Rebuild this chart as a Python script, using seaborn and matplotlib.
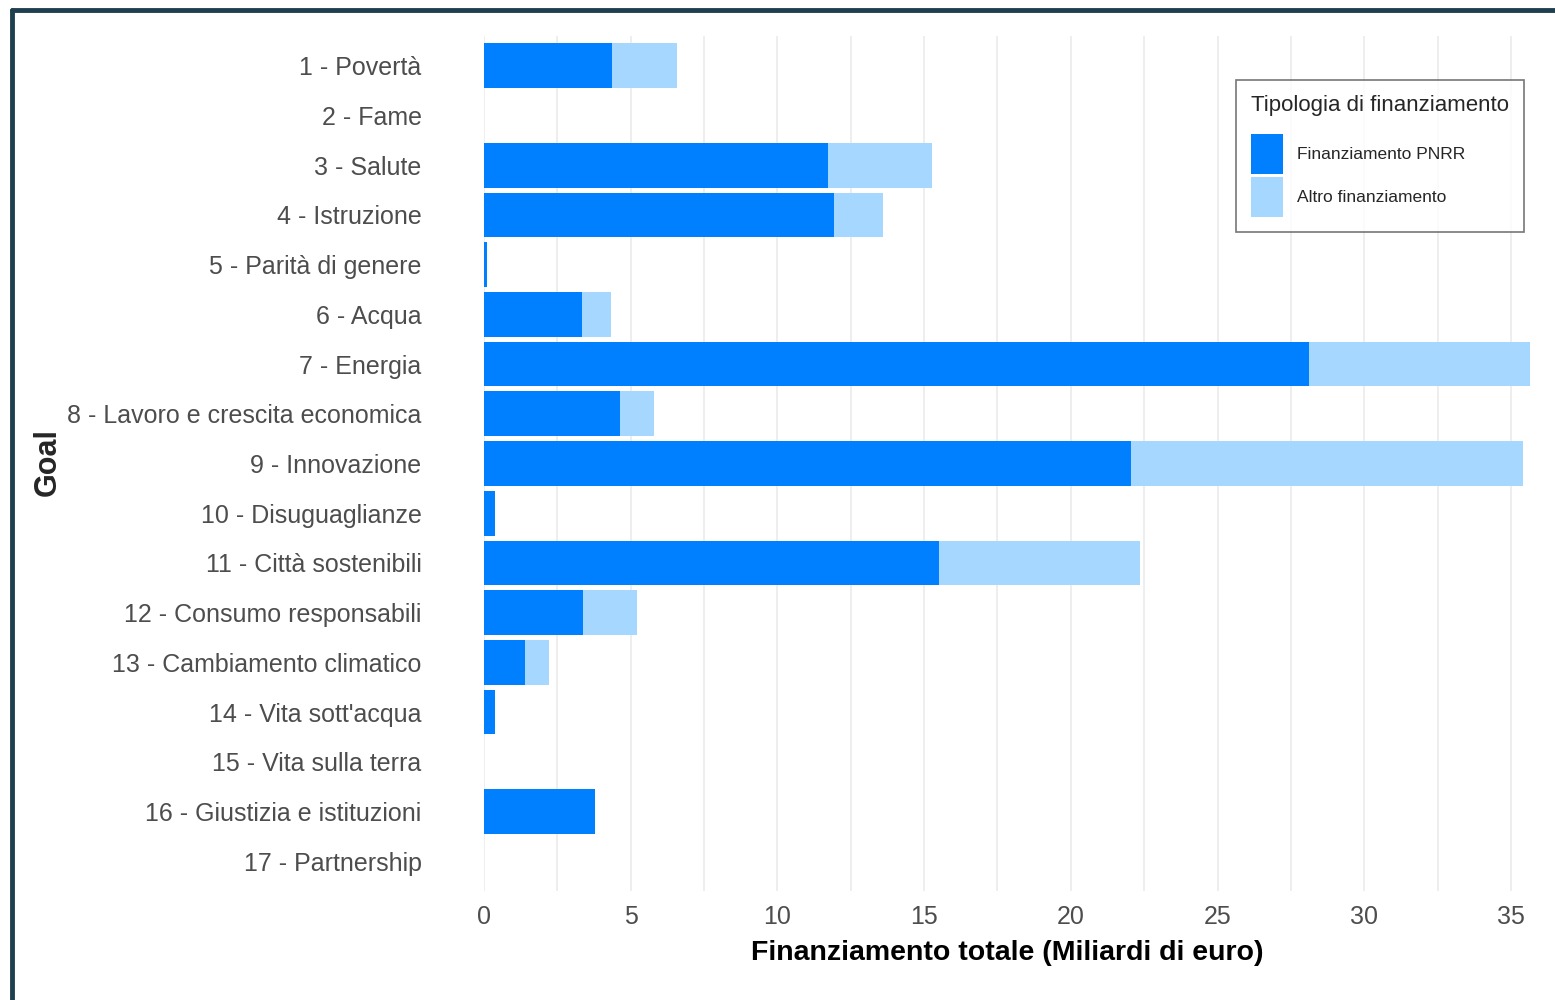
import matplotlib
matplotlib.use("Agg")
import matplotlib.pyplot as plt
import seaborn as sns
import pandas as pd
from matplotlib.patches import Patch
from matplotlib.lines import Line2D
from matplotlib import font_manager

goals = ["1 - Povertà", "2 - Fame", "3 - Salute", "4 - Istruzione", "5 - Parità di genere",
         "6 - Acqua", "7 - Energia", "8 - Lavoro e crescita economica", "9 - Innovazione",
         "10 - Disuguaglianze", "11 - Città sostenibili", "12 - Consumo responsabili",
         "13 - Cambiamento climatico", "14 - Vita sott'acqua", "15 - Vita sulla terra",
         "16 - Giustizia e istituzioni", "17 - Partnership"]
pnrr = [4.36, 0.0, 11.72, 11.93, 0.1, 3.34, 28.12, 4.64, 22.05, 0.37, 15.51, 3.37, 1.40, 0.37, 0.0, 3.78, 0.0]
altro = [2.22, 0.0, 3.55, 1.67, 0.0, 0.99, 7.53, 1.15, 13.36, 0.0, 6.85, 1.84, 0.82, 0.0, 0.0, 0.0, 0.0]
xticks = [0, 5, 10, 15, 20, 25, 30, 35]
legend_title = "Tipologia di finanziamento"
legend_labels = ["Finanziamento PNRR", "Altro finanziamento"]

DARK = "#0080FF"
LIGHT = "#A6D8FF"

sns.set_theme(style="white")
avail = {f.name for f in font_manager.fontManager.ttflist}
fam = "Liberation Sans Narrow" if "Liberation Sans Narrow" in avail else "Liberation Sans"
plt.rcParams['font.family'] = [fam, 'DejaVu Sans']

df = pd.DataFrame({"goal": goals, "pnrr": pnrr,
                   "total": [a + b for a, b in zip(pnrr, altro)]})

fig = plt.figure(figsize=(15.55, 10), dpi=100)
ax = fig.add_axes([484/1555, 1 - 891/1000, (1530-484)/1555, (891-36)/1000])

# vertical grid (major + minor)
for v in [x * 2.5 for x in range(0, 15)]:
    ax.axvline(v, color="#EBEBEB", lw=1.2, zorder=0)

sns.barplot(data=df, y="goal", x="total", color=LIGHT, width=0.9, orient="h",
            saturation=1, ax=ax, zorder=2, linewidth=0, edgecolor="none")
sns.barplot(data=df, y="goal", x="pnrr", color=DARK, width=0.9, orient="h",
            saturation=1, ax=ax, zorder=3, linewidth=0, edgecolor="none")

ax.set_xlim(0, 35.65)
ax.set_ylim(16.6, -0.6)
ax.set_xticks(xticks)
ax.set_xticklabels([str(t) for t in xticks])
for s in ax.spines.values():
    s.set_visible(False)
ax.tick_params(axis="y", length=0, pad=45, labelsize=18, labelcolor="#4D4D4D")
ax.tick_params(axis="x", length=0, pad=10, labelsize=18, labelcolor="#4D4D4D")
ax.set_xlabel("Finanziamento totale (Miliardi di euro)", fontsize=20.5, fontweight="bold",
              color="black", labelpad=8)
ax.set_ylabel("")
fig.text(48/1555, 1 - 462/1000, "Goal", rotation=90, fontsize=22, fontweight="bold",
         ha="center", va="center")

handles = [Patch(facecolor=DARK, edgecolor="none"), Patch(facecolor=LIGHT, edgecolor="none")]
leg = ax.legend(handles, legend_labels, title=legend_title, loc="upper right",
                bbox_to_anchor=(1524/1555, 1 - 80/1000), bbox_transform=fig.transFigure,
                borderaxespad=0, frameon=True, fancybox=False, edgecolor="#555555",
                fontsize=12.5, title_fontsize=16, handlelength=1.85, handleheight=3.2,
                labelspacing=0.15, handletextpad=0.8, borderpad=0.85, alignment="left")
leg.get_frame().set_linewidth(1.2)
leg._legend_box.sep = 13

# outer frame
fig.add_artist(Line2D([12/1555, 1], [1 - 10/1000, 1 - 10/1000], color="#1F3F4F", lw=3.5,
                      transform=fig.transFigure))
fig.add_artist(Line2D([12/1555, 12/1555], [0, 1 - 10/1000], color="#1F3F4F", lw=3.5,
                      transform=fig.transFigure))

fig.savefig("out.png", dpi=100)
